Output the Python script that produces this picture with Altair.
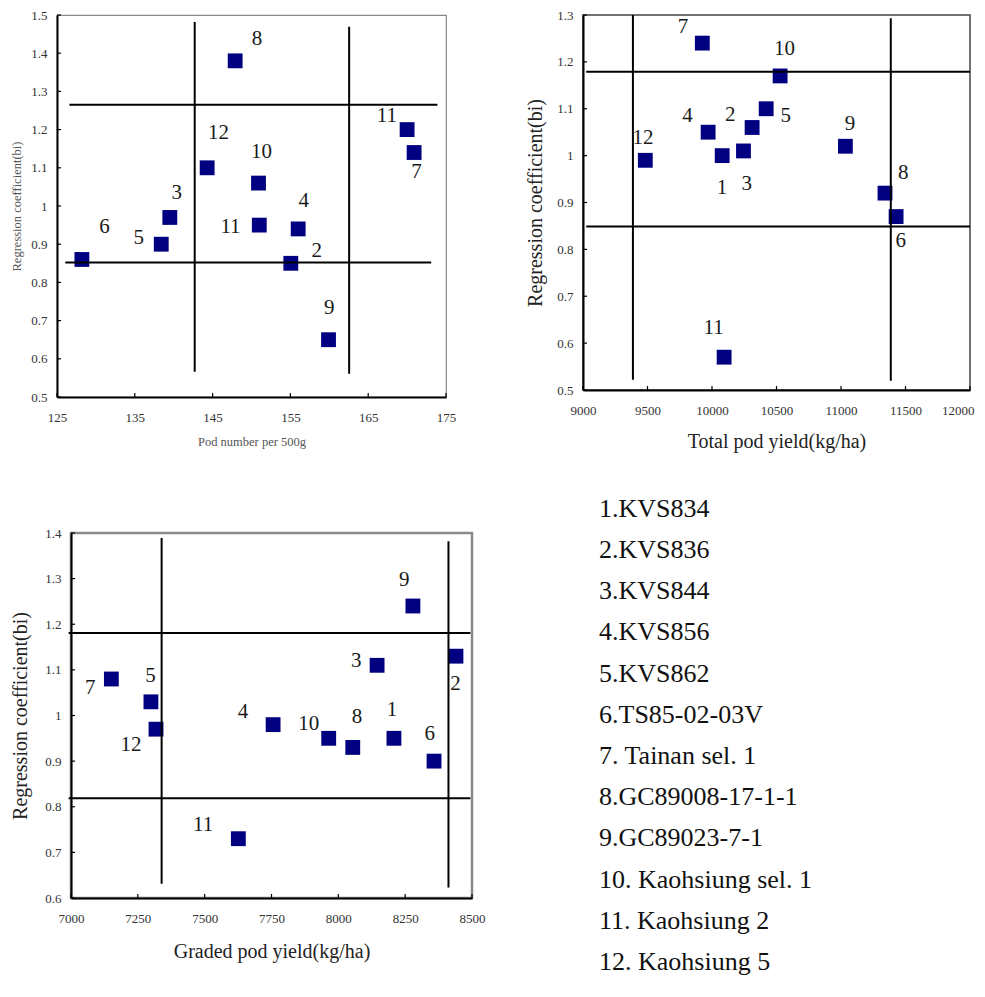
import altair as alt
import pandas as pd

# ---------------- data ----------------
# Panel 1: Pod number per 500g
p1_x = [170.0, 155.05, 139.5, 156.0, 138.4, 128.2, 170.9, 147.9, 159.9, 150.9, 151.0, 144.3]
p1_y = [1.20, 0.85, 0.97, 0.94, 0.90, 0.86, 1.14, 1.38, 0.65, 1.06, 0.95, 1.10]
p1_lab = ["11", "2", "3", "4", "5", "6", "7", "8", "9", "10", "11", "12"]
p1_lx = [167.4, 158.4, 140.4, 156.7, 135.5, 131.1, 171.2, 150.7, 160.0, 151.3, 147.3, 145.75]
p1_ly = [1.236, 0.882, 1.033, 1.013, 0.915, 0.945, 1.089, 1.438, 0.734, 1.141, 0.946, 1.192]
p1_h_y = [1.265, 0.852]
p1_h_x1 = [126.6, 126.07]
p1_h_x2 = [173.9, 173.1]
p1_v_x = [142.7, 162.55]
p1_v_y1 = [0.566, 0.561]
p1_v_y2 = [1.482, 1.469]
p1_xticks = [125, 135, 145, 155, 165, 175]
p1_yticks = [0.5, 0.6, 0.7, 0.8, 0.9, 1.0, 1.1, 1.2, 1.3, 1.4, 1.5]

# Panel 2: Total pod yield
p2_x = [10079, 10311, 10244, 9970, 10420, 11427, 9925, 11341, 11034, 10528, 10094, 9483]
p2_y = [1.00, 1.06, 1.01, 1.05, 1.10, 0.87, 1.24, 0.92, 1.02, 1.17, 0.57, 0.99]
p2_lab = ["1", "2", "3", "4", "5", "6", "7", "8", "9", "10", "11", "12"]
p2_lx = [10077, 10141, 10270, 9810, 10572, 11463, 9775, 11483, 11070, 10562, 10012, 9465]
p2_ly = [0.932, 1.086, 0.940, 1.085, 1.085, 0.818, 1.274, 0.962, 1.068, 1.228, 0.632, 1.038]
p2_h_y = [1.179, 0.849]
p2_h_x1 = [9025, 9025]
p2_h_x2 = [12000, 12000]
p2_v_x = [9387, 11386]
p2_v_y1 = [0.522, 0.520]
p2_v_y2 = [1.300, 1.293]
p2_xticks = [9000, 9500, 10000, 10500, 11000, 11500, 12000]
p2_yticks = [0.5, 0.6, 0.7, 0.8, 0.9, 1.0, 1.1, 1.2, 1.3]

# Panel 3: Graded pod yield
p3_x = [8208, 8440, 8145, 7756, 7299, 8358, 7151, 8054, 8279, 7964, 7626, 7318]
p3_y = [0.95, 1.13, 1.11, 0.98, 1.03, 0.90, 1.08, 0.93, 1.24, 0.95, 0.73, 0.97]
p3_lab = ["1", "2", "3", "4", "5", "6", "7", "8", "9", "10", "11", "12"]
p3_lx = [8201, 8438, 8067, 7643, 7297, 8342, 7072, 8070, 8247, 7889, 7494, 7224]
p3_ly = [1.012, 1.069, 1.119, 1.008, 1.086, 0.959, 1.060, 0.996, 1.297, 0.981, 0.760, 0.935]
p3_h_y = [1.181, 0.8185]
p3_h_x1 = [6991, 6991]
p3_h_x2 = [8494, 8494]
p3_v_x = [7339, 8412]
p3_v_y1 = [0.631, 0.623]
p3_v_y2 = [1.389, 1.382]
p3_xticks = [7000, 7250, 7500, 7750, 8000, 8250, 8500]
p3_yticks = [0.6, 0.7, 0.8, 0.9, 1.0, 1.1, 1.2, 1.3, 1.4]

legend_idx = list(range(1, 13))
legend_text = ["1.KVS834", "2.KVS836", "3.KVS844", "4.KVS856", "5.KVS862",
               "6.TS85-02-03V", "7. Tainan sel. 1", "8.GC89008-17-1-1",
               "9.GC89023-7-1", "10. Kaohsiung sel. 1", "11. Kaohsiung 2",
               "12. Kaohsiung 5"]

SERIF = "Liberation Serif"


def panel(px, py, lab, lx, ly, hy, hx1, hx2, vx, vy1, vy2, xticks, yticks,
          w, h, xtitle, ytitle, tsize, tcolor, ytx, xty, frame_color, frame_w,
          xextra=None):
    xdom = [xticks[0], xticks[-1]]
    ydom = [yticks[0], yticks[-1]]
    xs = alt.Scale(domain=xdom, nice=False, zero=False)
    ys = alt.Scale(domain=ydom, nice=False, zero=False)
    common = dict(grid=False, tickSize=0, domainColor="black",
                  domainWidth=2, labelFont=SERIF, labelFontSize=13,
                  labelColor="#333333", labelFlush=False, labelOverlap=False,
                  titleFont=SERIF, titleFontSize=tsize, titleFontWeight="normal",
                  titleColor=tcolor, titleBaseline="middle")
    xaxis = alt.Axis(values=xticks, tickCount=len(xticks), format="d",
                     labelPadding=14, title=xtitle, titleY=xty,
                     **common, **(xextra or {}))
    yaxis = alt.Axis(values=yticks, tickCount=len(yticks), format="~g",
                     labelPadding=10, title=ytitle, titleX=ytx, **common)

    pts = pd.DataFrame({"x": px, "y": py})
    labs = pd.DataFrame({"x": lx, "y": ly, "t": lab})
    hl = pd.DataFrame({"y": hy, "x1": hx1, "x2": hx2})
    vl = pd.DataFrame({"x": vx, "y1": vy1, "y2": vy2})
    xt = pd.DataFrame({"v": xticks})
    yt = pd.DataFrame({"v": yticks})

    points = alt.Chart(pts).mark_square(size=220, color="#000080", opacity=1).encode(
        x=alt.X("x:Q", scale=xs, axis=xaxis),
        y=alt.Y("y:Q", scale=ys, axis=yaxis))
    hrules = alt.Chart(hl).mark_rule(color="black", strokeWidth=2).encode(
        y=alt.Y("y:Q", scale=ys), x=alt.X("x1:Q", scale=xs), x2="x2:Q")
    vrules = alt.Chart(vl).mark_rule(color="black", strokeWidth=2).encode(
        x=alt.X("x:Q", scale=xs), y=alt.Y("y1:Q", scale=ys), y2="y2:Q")
    xtk = alt.Chart(xt).mark_rule(color="black", strokeWidth=1.2).encode(
        x=alt.X("v:Q", scale=xs), y=alt.value(h), y2=alt.value(h - 4))
    ytk = alt.Chart(yt).mark_rule(color="black", strokeWidth=1.2).encode(
        y=alt.Y("v:Q", scale=ys), x=alt.value(0), x2=alt.value(4))
    texts = alt.Chart(labs).mark_text(font=SERIF, fontSize=21, color="#1a1a1a",
                                      align="center", baseline="middle").encode(
        x=alt.X("x:Q", scale=xs), y=alt.Y("y:Q", scale=ys), text="t:N")
    return alt.layer(points, hrules, vrules, xtk, ytk, texts).properties(
        width=w, height=h,
        view=alt.ViewBackground(stroke=frame_color, strokeWidth=frame_w))


def spacer():
    return alt.Chart(pd.DataFrame({"s": [0]})).mark_point(opacity=0, size=0).encode(
        x=alt.value(0), y=alt.value(0)).properties(
        width=1, height=1, view=alt.ViewBackground(strokeOpacity=0))


p1 = panel(p1_x, p1_y, p1_lab, p1_lx, p1_ly, p1_h_y, p1_h_x1, p1_h_x2,
           p1_v_x, p1_v_y1, p1_v_y2, p1_xticks, p1_yticks, 389, 382,
           "Pod number per 500g", "Regression coefficient(bi)", 12.5, "#555555",
           -41, 44, "#888888", 1.2)
p2 = panel(p2_x, p2_y, p2_lab, p2_lx, p2_ly, p2_h_y, p2_h_x1, p2_h_x2,
           p2_v_x, p2_v_y1, p2_v_y2, p2_xticks, p2_yticks, 387, 375,
           "Total pod yield(kg/ha)", "Regression coefficient(bi)", 20, "#222222",
           -48, 51, "#444444", 1.5,
           xextra=dict(
               labelAlign={"condition": {"test": "datum.value >= 12000", "value": "right"},
                           "value": "center"},
               labelOffset={"condition": {"test": "datum.value >= 12000", "value": 4},
                            "value": 0}))
p3 = panel(p3_x, p3_y, p3_lab, p3_lx, p3_ly, p3_h_y, p3_h_x1, p3_h_x2,
           p3_v_x, p3_v_y1, p3_v_y2, p3_xticks, p3_yticks, 401, 365,
           "Graded pod yield(kg/ha)", "Regression coefficient(bi)", 20, "#222222",
           -50.5, 53, "#8a8a8a", 2.5)

leg_df = pd.DataFrame({"i": legend_idx, "t": legend_text})
legend = alt.Chart(leg_df).mark_text(font=SERIF, fontSize=26, color="#111111",
                                     align="left", baseline="alphabetic",
                                     dy=-16.3).encode(
    x=alt.value(0),
    y=alt.Y("i:Q", scale=alt.Scale(domain=[1, 12], range=[0, 453.2],
                                   nice=False, zero=False),
            axis=None),
    text="t:N").properties(width=260, height=300,
                           view=alt.ViewBackground(strokeOpacity=0))

left1 = alt.concat(spacer(), p1, columns=2, spacing=0, align="none")
left2 = alt.concat(spacer(), p3, columns=2, spacing=0, align="none")
row1 = alt.concat(left1, p2, columns=2, spacing=67, align="none")
row2 = alt.concat(left2, legend, columns=2, spacing=112, align="none")

chart = alt.concat(row1, row2, columns=1, spacing=43, align="none").properties(
    padding={"left": 0, "top": 0, "right": 0, "bottom": 0},
    background="white")

chart.save("out.html", embed_options={"renderer": "svg", "actions": False})
